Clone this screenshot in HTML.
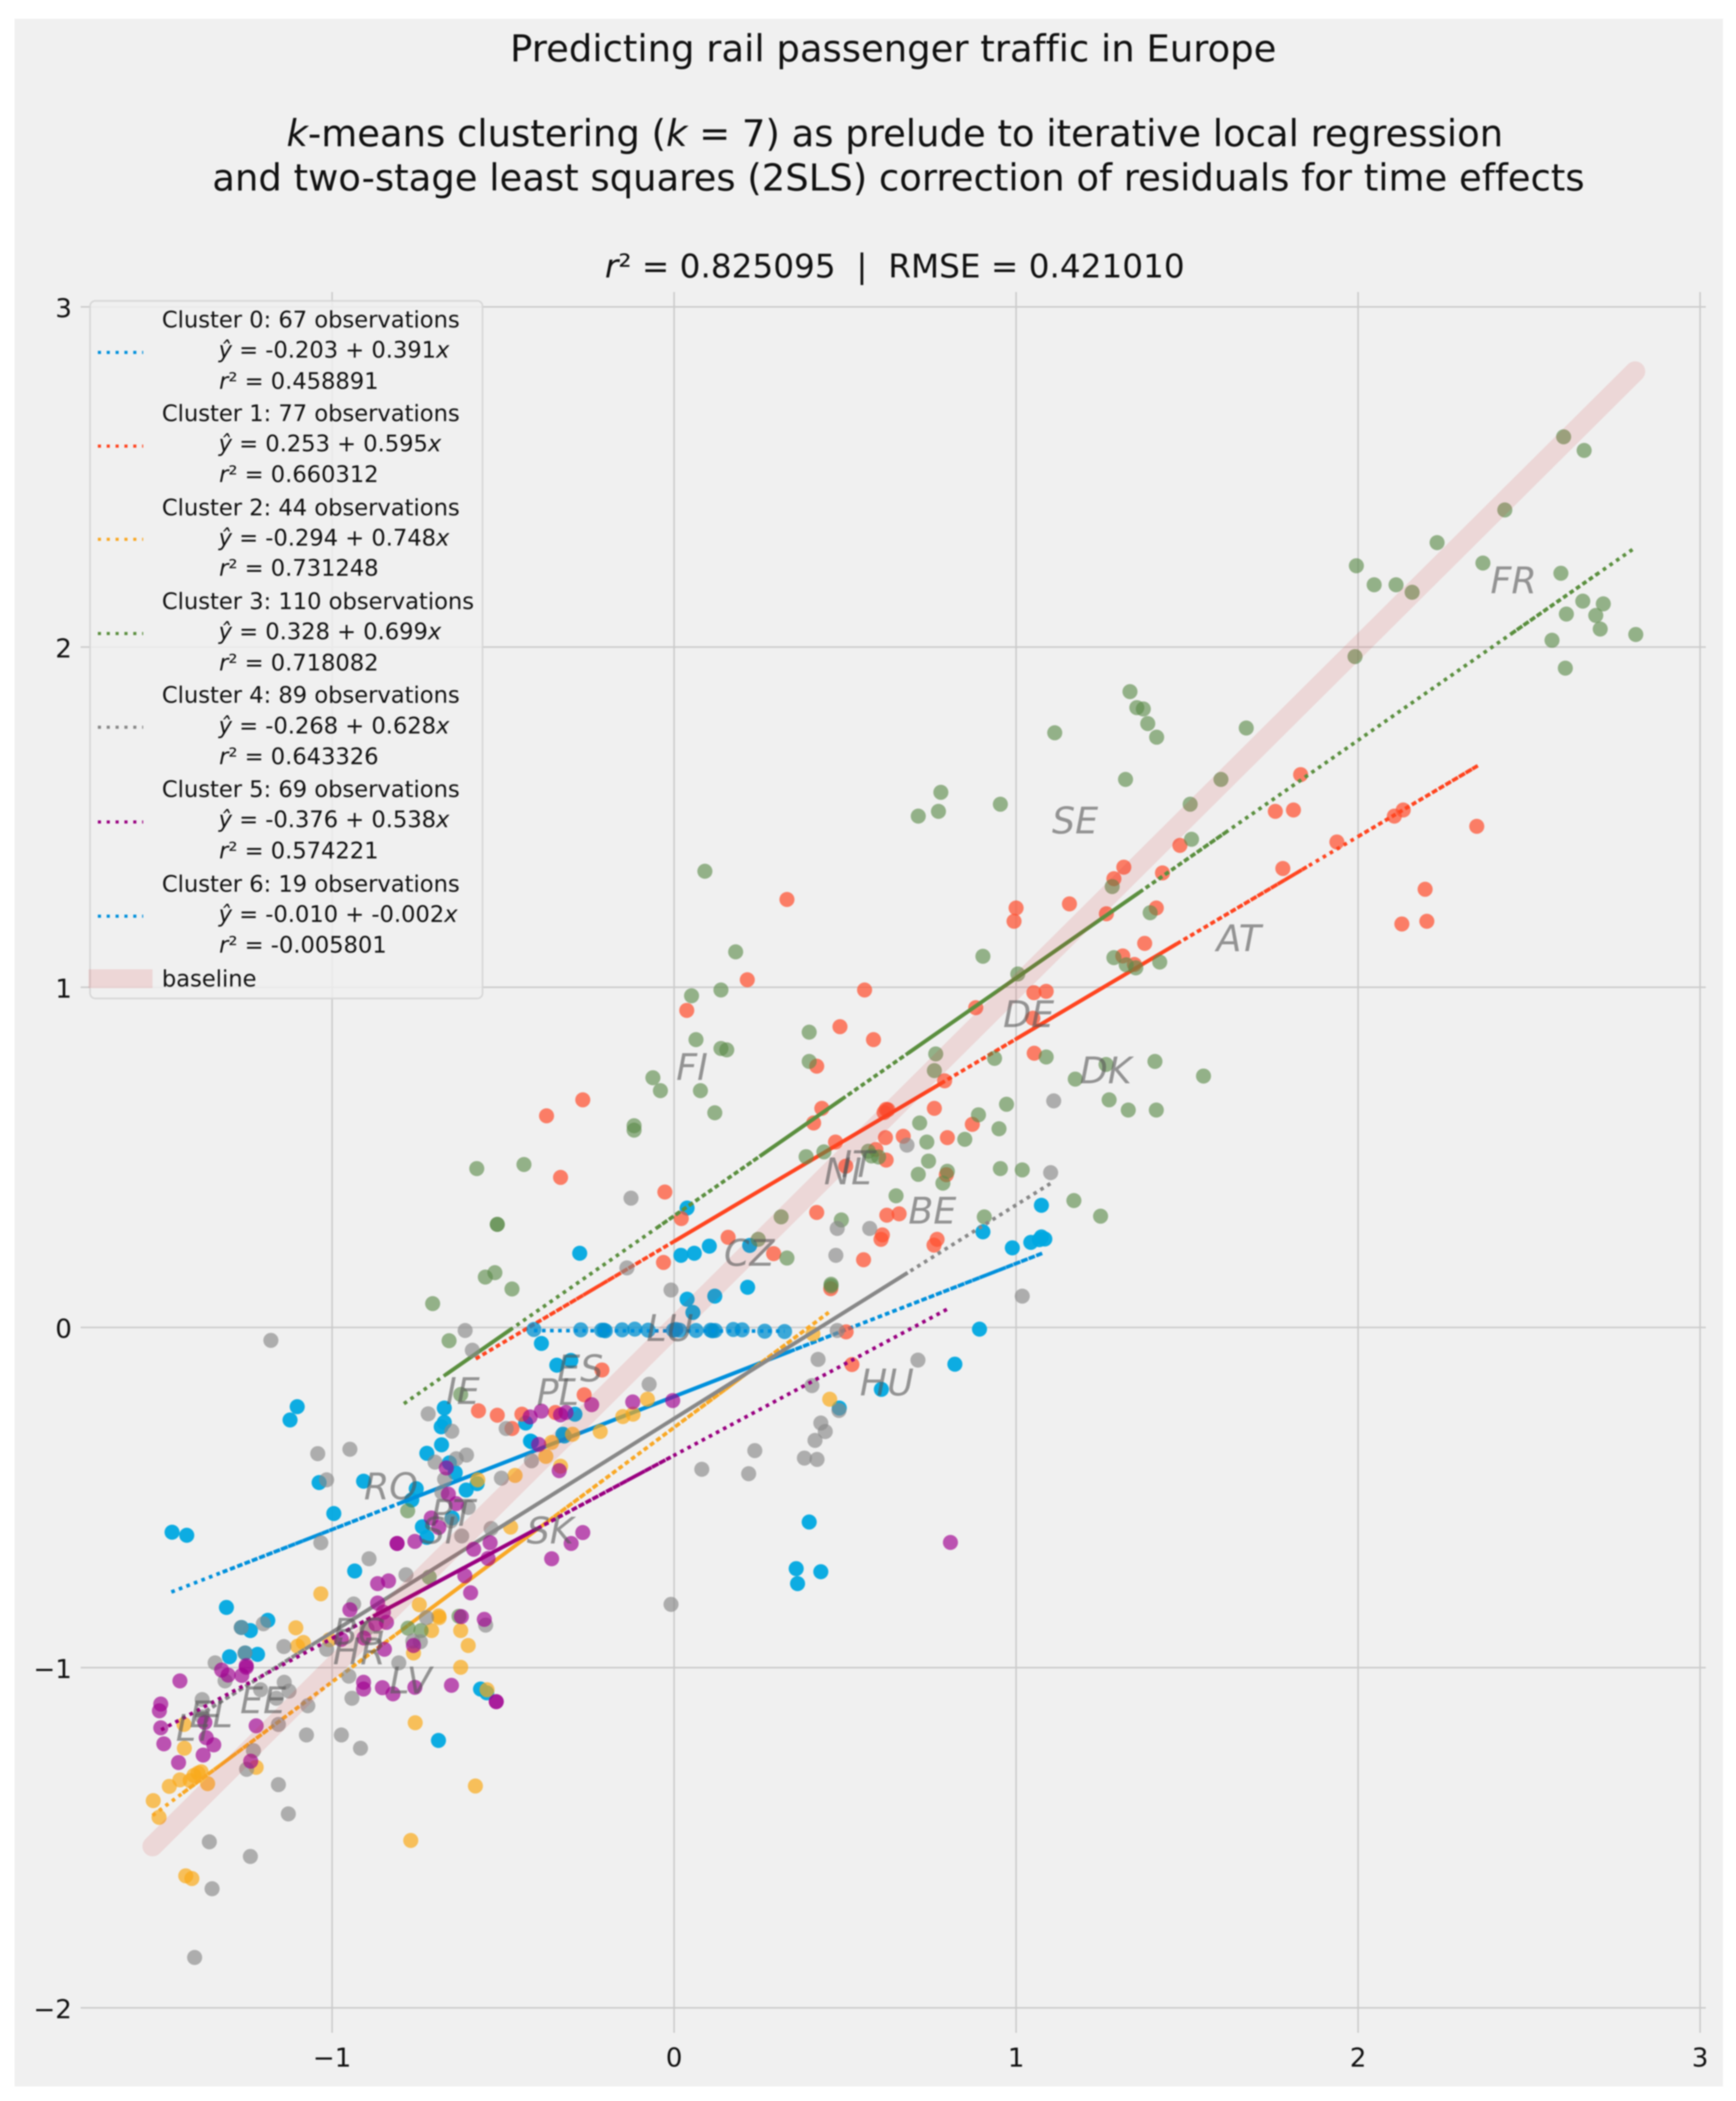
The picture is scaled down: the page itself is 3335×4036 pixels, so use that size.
<!DOCTYPE html>
<html lang="en">
<head>
<meta charset="utf-8">
<title>Predicting rail passenger traffic in Europe</title>
<style>
html,body{margin:0;padding:0;background:#fff;}
svg{display:block;font-family:"DejaVu Sans","Liberation Sans",sans-serif;font-variant-ligatures:none;filter:blur(1.3px);}
text{font-variant-ligatures:none;}
</style>
</head>
<body>
<svg id="chart" xmlns="http://www.w3.org/2000/svg" width="3335" height="4036" viewBox="0 0 3335 4036">
  <rect x="0" y="0" width="3335" height="4036" fill="#ffffff"/>
  <rect x="28" y="36" width="3282" height="3972" fill="#f0f0f0"/>
  <text x="1716" y="118" font-size="71" text-anchor="middle" fill="#111">Predicting rail passenger traffic in Europe</text>
  <text x="1719" y="281" font-size="71" text-anchor="middle" fill="#111"><tspan font-style="italic">k</tspan>-means clustering (<tspan font-style="italic">k</tspan> = 7) as prelude to iterative local regression</text>
  <text x="1726" y="366" font-size="71" text-anchor="middle" fill="#111">and two-stage least squares (2SLS) correction of residuals for time effects</text>
  <text x="1719" y="533" font-size="62.8" text-anchor="middle" fill="#111" xml:space="preserve"><tspan font-style="italic">r</tspan>² = 0.825095  |  RMSE = 0.421010</text>
  <g id="grid"></g>
  <g id="ticks"></g>
  <g id="plot"></g>
  <g id="labels"></g>

  <g id="legend" font-size="43.4" fill="#111">
    <rect x="173" y="578" width="754" height="1340" rx="10" ry="10" fill="#f0f0f0" fill-opacity="0.8" stroke="#d6d6d6" stroke-width="3"/>
    <g>
      <line x1="188" x2="275" y1="677" y2="677" stroke="#0090dc" stroke-width="6" stroke-dasharray="6 11"/>
      <text x="311" y="629">Cluster 0: 67 observations</text>
      <text x="420" y="687"><tspan font-style="italic">ŷ</tspan> = -0.203 + 0.391<tspan font-style="italic">x</tspan></text>
      <text x="421" y="747"><tspan font-style="italic">r</tspan>² = 0.458891</text>
    </g>
    <g>
      <line x1="188" x2="275" y1="857" y2="857" stroke="#ff4520" stroke-width="6" stroke-dasharray="6 11"/>
      <text x="311" y="809">Cluster 1: 77 observations</text>
      <text x="420" y="867"><tspan font-style="italic">ŷ</tspan> = 0.253 + 0.595<tspan font-style="italic">x</tspan></text>
      <text x="421" y="926"><tspan font-style="italic">r</tspan>² = 0.660312</text>
    </g>
    <g>
      <line x1="188" x2="275" y1="1036" y2="1036" stroke="#f9a825" stroke-width="6" stroke-dasharray="6 11"/>
      <text x="311" y="990">Cluster 2: 44 observations</text>
      <text x="420" y="1048"><tspan font-style="italic">ŷ</tspan> = -0.294 + 0.748<tspan font-style="italic">x</tspan></text>
      <text x="421" y="1106"><tspan font-style="italic">r</tspan>² = 0.731248</text>
    </g>
    <g>
      <line x1="188" x2="275" y1="1217" y2="1217" stroke="#5b8f3f" stroke-width="6" stroke-dasharray="6 11"/>
      <text x="311" y="1170">Cluster 3: 110 observations</text>
      <text x="420" y="1228"><tspan font-style="italic">ŷ</tspan> = 0.328 + 0.699<tspan font-style="italic">x</tspan></text>
      <text x="421" y="1288"><tspan font-style="italic">r</tspan>² = 0.718082</text>
    </g>
    <g>
      <line x1="188" x2="275" y1="1397" y2="1397" stroke="#888888" stroke-width="6" stroke-dasharray="6 11"/>
      <text x="311" y="1350">Cluster 4: 89 observations</text>
      <text x="420" y="1409"><tspan font-style="italic">ŷ</tspan> = -0.268 + 0.628<tspan font-style="italic">x</tspan></text>
      <text x="421" y="1468"><tspan font-style="italic">r</tspan>² = 0.643326</text>
    </g>
    <g>
      <line x1="188" x2="275" y1="1579" y2="1579" stroke="#990080" stroke-width="6" stroke-dasharray="6 11"/>
      <text x="311" y="1531">Cluster 5: 69 observations</text>
      <text x="420" y="1589"><tspan font-style="italic">ŷ</tspan> = -0.376 + 0.538<tspan font-style="italic">x</tspan></text>
      <text x="421" y="1649"><tspan font-style="italic">r</tspan>² = 0.574221</text>
    </g>
    <g>
      <line x1="188" x2="275" y1="1760" y2="1760" stroke="#0090dc" stroke-width="6" stroke-dasharray="6 11"/>
      <text x="311" y="1713">Cluster 6: 19 observations</text>
      <text x="420" y="1771"><tspan font-style="italic">ŷ</tspan> = -0.010 + -0.002<tspan font-style="italic">x</tspan></text>
      <text x="421" y="1830"><tspan font-style="italic">r</tspan>² = -0.005801</text>
    </g>
    <g>
      <rect x="170" y="1862" width="123" height="36" fill="#d62828" fill-opacity="0.13"/>
      <text x="311" y="1895">baseline</text>
    </g>
  </g>
</svg>

<script>
const xTickValues = [-1, 0, 1, 2, 3];
const yTickValues = [-2, -1, 0, 1, 2, 3];
const baselineRange = [-1.525, 2.81];

const intercepts = [-0.203, 0.253, -0.294, 0.328, -0.268, -0.376, -0.010];
const slopes = [0.391, 0.595, 0.748, 0.699, 0.628, 0.538, -0.002];
const fitRanges = [[-1.47, 1.08], [-0.58, 2.35], [-1.525, 0.452], [-0.79, 2.81], [-1.37, 1.107], [-1.5, 0.804], [-0.41, 0.323]];
const solidRanges = [
  [[-0.8, 0.34]],
  [[0, 0.78], [1.0, 1.47]],
  [[-0.72, -0.4]],
  [[-0.667, -0.475], [0.25, 0.49], [0.685, 1.36]],
  [[-1.0, 0.683]],
  [[-0.88, -0.4]],
  []
];
const denseRanges = [
  [[-1.32, -0.8], [0.34, 1.08]],
  [[-0.58, 0], [0.78, 1.0], [1.47, 1.85], [2.0, 2.35]],
  [[-1.437, -0.72], [-0.4, 0.452]],
  [[-0.05, 0.25], [0.49, 0.685], [1.36, 1.62], [2.45, 2.7]],
  [[-1.37, -1.0]],
  [[-1.0, -0.88], [-0.4, -0.01]],
  []
];

const cluster0Points = [[-1.468,-.602],[-1.425,-.611],[-1.102,-.233],[-1.123,-.272],[-1.038,-.456],[-.908,-.452],[-.995,-.547],[-.934,-.716],[-1.309,-.823],[-1.265,-.882],[-1.239,-.891],[-1.188,-.861],[-1.3,-.968],[-1.254,-.957],[-1.218,-.961],[-.566,-1.063],[-.548,-1.074],[-.689,-1.214],[-.672,-.237],[-.672,-.279],[-.681,-.292],[-.68,-.345],[-.723,-.37],[-.657,-.398],[-.64,-.427],[-.754,-.474],[-.608,-.478],[-.767,-.507],[-.576,-.459],[-.649,-.56],[-.736,-.586],[-.723,-.617],[-.434,-.281],[-.417,-.336],[-.321,-.319],[-.276,.218],[.02,.212],[.059,.218],[.103,.239],[.221,.241],[.215,.118],[.119,.092],[.038,.083],[.055,.044],[.038,.351],[-.388,-.047],[-.343,-.111],[-.302,-.097],[-.29,-.255],[-.42,-.334],[-.325,-.314],[.483,-.237],[.395,-.572],[.357,-.709],[.429,-.718],[.361,-.753],[.821,-.108],[.606,-.182],[.893,-.005],[.903,.281],[1.074,.359],[.989,.234],[1.043,.25],[1.074,.266],[1.084,.26],[1.068,.258]];

const cluster1Points = [[2.347,1.473],[2.196,1.288],[2.201,1.194],[2.128,1.186],[2.106,1.503],[2.132,1.521],[1.832,1.625],[1.758,1.517],[1.811,1.521],[1.938,1.427],[1.78,1.349],[1.479,1.417],[1.315,1.353],[1.286,1.319],[1.428,1.336],[1.264,1.216],[1.156,1.245],[1.0,1.233],[.994,1.194],[1.41,1.233],[1.376,1.129],[1.312,1.092],[1.346,1.067],[1.052,.984],[1.088,.988],[.882,.94],[1.049,.909],[1.053,.806],[.791,.725],[.33,1.258],[.214,1.022],[.037,.932],[.557,.992],[.485,.884],[.583,.846],[.417,.768],[.432,.644],[.408,.601],[.761,.644],[.62,.641],[.625,.64],[.614,.632],[.472,.545],[.618,.558],[.67,.562],[.799,.558],[.872,.597],[.59,.523],[.62,.492],[.502,.474],[-.027,.398],[.021,.32],[.417,.338],[.622,.33],[.658,.334],[.158,.265],[.609,.272],[.605,.259],[.769,.259],[.76,.242],[.796,.449],[.291,.217],[.554,.199],[.458,.114],[.503,-.013],[.52,-.109],[-.332,.441],[-.031,.191],[-.211,-.125],[-.263,-.198],[-.572,-.245],[-.517,-.258],[-.474,-.297],[-.445,-.255],[-.347,-.25],[-.373,.622],[-.267,.669]];

const cluster2Points = [[-1.106,-.883],[-1.084,-.926],[-1.101,-.937],[-1.523,-1.391],[-1.506,-1.44],[-1.476,-1.349],[-1.445,-1.33],[-1.415,-1.332],[-1.432,-1.237],[-1.433,-1.167],[-1.404,-1.317],[-1.392,-1.31],[-1.383,-1.306],[-1.364,-1.341],[-1.222,-1.293],[-1.428,-1.612],[-1.41,-1.62],[-.77,-1.508],[-.581,-1.348],[-.757,-1.162],[-.547,-1.065],[-.687,-.853],[-.709,-.891],[-.624,-.891],[-.602,-.935],[-.624,-.999],[-.762,-.957],[-1.008,-.918],[-1.033,-.783],[-.745,-.815],[-.688,-.848],[-.478,-.587],[-.375,-.379],[-.358,-.338],[-.465,-.435],[-.574,-.448],[-.332,-.408],[-.297,-.314],[-.216,-.306],[-.15,-.262],[-.12,-.255],[-.078,-.211],[.455,-.211],[.406,-.019]];

const cluster3Points = [[2.601,2.618],[2.661,2.578],[2.429,2.403],[2.231,2.307],[1.995,2.239],[2.047,2.183],[2.111,2.183],[2.158,2.161],[2.365,2.247],[2.593,2.217],[2.657,2.135],[2.717,2.127],[2.609,2.097],[2.695,2.093],[2.708,2.053],[2.812,2.037],[2.567,2.02],[2.606,1.938],[1.991,1.972],[1.333,1.869],[1.353,1.822],[1.372,1.818],[1.385,1.775],[1.411,1.735],[1.113,1.748],[1.673,1.762],[1.32,1.611],[1.599,1.611],[1.509,1.538],[1.513,1.435],[.954,1.538],[.78,1.573],[.773,1.517],[1.281,1.296],[.903,1.091],[1.005,1.039],[1.392,1.219],[1.286,1.087],[1.322,1.066],[1.35,1.057],[1.42,1.074],[.937,.791],[1.088,.795],[1.263,.773],[1.406,.782],[1.548,.739],[1.173,.73],[1.272,.669],[1.328,.639],[1.41,.639],[.972,.656],[.89,.625],[.714,1.503],[.09,1.341],[.18,1.104],[.137,.992],[.051,.975],[.064,.846],[.137,.82],[.154,.816],[-.062,.734],[-.04,.696],[.077,.696],[.119,.631],[-.117,.593],[-.117,.58],[.395,.868],[.395,.782],[.765,.804],[.761,.755],[.95,.584],[.85,.553],[.718,.601],[.739,.545],[.744,.489],[.714,.45],[.799,.459],[.786,.424],[.954,.467],[1.018,.463],[.386,.502],[.438,.516],[.568,.518],[.577,.504],[.598,.501],[.649,.387],[.489,.316],[.907,.325],[1.169,.373],[1.247,.327],[.313,.325],[.246,.259],[.33,.204],[.459,.127],[.459,.122],[-.577,.467],[-.439,.479],[-.517,.303],[-.517,.303],[-.552,.148],[-.524,.161],[-.474,.113],[-.706,.07],[-.658,-.039],[-.624,-.197],[-.716,-.734],[-.779,-.539],[-.778,-.884],[-.74,-.891],[-.629,-.849]];

const cluster4Points = [[-1.402,-1.852],[-1.351,-1.65],[-1.239,-1.555],[-1.359,-1.512],[-1.128,-1.43],[-1.157,-1.344],[-1.23,-1.244],[-1.25,-1.299],[-.917,-1.237],[-.973,-1.198],[-1.075,-1.198],[-1.157,-1.167],[-1.071,-1.112],[-.942,-1.09],[-.951,-1.025],[-1.126,-1.069],[-1.14,-1.043],[-1.209,-1.065],[-1.163,-1.09],[-1.313,-1.039],[-1.342,-.986],[-1.38,-1.094],[-1.38,-1.145],[-1.201,-.871],[-1.266,-.882],[-1.255,-.957],[-1.141,-.938],[-1.016,-.946],[-.805,-.986],[-.764,-.922],[-.742,-.924],[-.724,-.853],[-.551,-.875],[-.898,-.885],[-1.179,-.038],[-.611,-.009],[-.59,-.067],[-.719,-.254],[-.65,-.305],[-.948,-.358],[-1.042,-.371],[-1.016,-.448],[-1.033,-.633],[-.892,-.68],[-.784,-.727],[-.699,-.396],[-.637,-.386],[-.607,-.375],[-.671,-.446],[-.679,-.485],[-.602,-.529],[-.621,-.613],[-.535,-.591],[-.505,-.443],[-.491,-.297],[-.417,-.392],[-.653,-.569],[-.937,-.813],[-.126,.38],[-.138,.175],[-.009,.11],[-.073,-.167],[.477,-.009],[.421,-.094],[.403,-.171],[.429,-.281],[.442,-.306],[.412,-.332],[.381,-.384],[.418,-.388],[.236,-.362],[.081,-.417],[.218,-.43],[-.009,-.814],[.482,-.244],[.477,.291],[.572,.291],[.473,.212],[.681,.536],[1.11,.666],[1.101,.455],[1.018,.092],[.713,-.096]];

const cluster5Points = [[-1.445,-1.039],[-1.501,-1.107],[-1.505,-1.127],[-1.501,-1.177],[-1.492,-1.224],[-1.449,-1.279],[-1.377,-1.257],[-1.368,-1.206],[-1.346,-1.227],[-1.372,-1.161],[-1.222,-1.171],[-1.238,-1.275],[-1.323,-1.007],[-1.304,-1.022],[-1.264,-1.023],[-1.251,-.999],[-1.251,-.994],[-.908,-1.043],[-.908,-1.063],[-.853,-1.059],[-.822,-1.077],[-.758,-1.058],[-.651,-1.052],[-.52,-1.1],[-.52,-1.1],[-.847,-.946],[-.762,-.935],[-.622,-.85],[-.555,-.858],[-.973,-.917],[-.907,-.913],[-.867,-.753],[-.835,-.745],[-.867,-.81],[-.948,-.83],[-.85,-.837],[-.841,-.867],[-.872,-.872],[-.595,-.78],[-.612,-.73],[-.544,-.679],[-.586,-.652],[-.538,-.633],[-.758,-.629],[-.81,-.635],[-.81,-.635],[-.71,-.56],[-.688,-.588],[-.66,-.49],[-.637,-.518],[-.666,-.413],[-.421,-.263],[-.388,-.246],[-.396,-.344],[-.336,-.421],[-.332,-.257],[-.316,-.25],[-.358,-.68],[-.301,-.635],[-.267,-.603],[-.241,-.227],[-.121,-.219],[-.004,-.215],[.808,-.632]];

const cluster6Points = [[-.41,-.006],[-.273,-.007],[-.212,-.008],[-.205,-.008],[-.201,-.01],[-.152,-.007],[-.115,-.005],[-.076,-.008],[-.002,-.008],[.005,-.006],[.016,-.008],[.064,-.009],[.107,-.008],[.12,-.009],[.173,-.006],[.199,-.007],[.265,-.011],[.323,-.012],[.112,-.01]];

const clusterPoints = [cluster0Points, cluster1Points, cluster2Points, cluster3Points, cluster4Points, cluster5Points, cluster6Points];

const pointColors = ['#00a8e0', '#ff5030', '#f9a91a', '#5a8a48', '#888888', '#a00090', '#0090d0'];
const pointOpacity = [0.95, 0.72, 0.7, 0.62, 0.65, 0.66, 0.75];
const lineColors = ['#0090dc', '#ff4520', '#f9a825', '#5b8f3f', '#888888', '#990080', '#0090dc'];

const countryCodes = ['FR','SE','AT','DE','DK','FI','NL','IT','BE','CZ','LU','HU','ES','IE','PL','RO','PT','SI','SK','BG','HR','LV','EE','EL','LT'];
const countryX = [2.387,1.105,1.586,.962,1.186,.006,.438,.489,.685,.146,-.081,.543,-.342,-.667,-.402,-.907,-.712,-.738,-.431,-.998,-.998,-.833,-1.269,-1.417,-1.457];
const countryY = [2.158,1.452,1.106,.883,.718,.728,.421,.442,.305,.181,-.04,-.2,-.158,-.225,-.228,-.505,-.583,-.635,-.635,-.933,-.99,-1.076,-1.134,-1.175,-1.215];

const NS = 'http://www.w3.org/2000/svg';
const xScale = v => 1295 + 657 * v;
const yScale = v => 2550 - 653.5 * v;
const axisLeft = 155, axisRight = 3277, axisTop = 561, axisBottom = 3905;

const gridGroup = document.getElementById('grid');
const tickGroup = document.getElementById('ticks');
const plotGroup = document.getElementById('plot');
const labelGroup = document.getElementById('labels');

function make(tag, attrs, parent) {
  const el = document.createElementNS(NS, tag);
  for (const k in attrs) el.setAttribute(k, attrs[k]);
  parent.appendChild(el);
  return el;
}
function tickText(v) { return v < 0 ? '\u2212' + Math.abs(v) : String(v); }

xTickValues.forEach(v => {
  const line = make('line', {x1: xScale(v), x2: xScale(v), y1: axisTop, y2: axisBottom, stroke: '#cbcbcb', 'stroke-width': 3}, gridGroup);
  
  
  const label = make('text', {x: xScale(v), y: 3970, 'font-size': 50, 'text-anchor': 'middle', fill: '#111'}, tickGroup);
  
  
  label.textContent = tickText(v);
});
yTickValues.forEach(v => {
  const line = make('line', {x1: axisLeft, x2: axisRight, y1: yScale(v), y2: yScale(v), stroke: '#cbcbcb', 'stroke-width': 3}, gridGroup);
  
  
  const label = make('text', {x: 138, y: yScale(v) + 20, 'font-size': 50, 'text-anchor': 'end', fill: '#111'}, tickGroup);
  
  
  label.textContent = tickText(v);
});

function fitSegment(i, a, b, dash, width, parent) {
  const attrs = {
    x1: xScale(a), x2: xScale(b),
    y1: yScale(intercepts[i] + slopes[i] * a), y2: yScale(intercepts[i] + slopes[i] * b),
    stroke: lineColors[i], 'stroke-width': width
  };
  if (dash) attrs['stroke-dasharray'] = dash;
  const seg = make('line', attrs, parent);
  
  
}

clusterPoints.forEach((pts, i) => {
  const g = make('g', {}, plotGroup);
  
  
  pts.forEach(p => {
    const c = make('circle', {cx: xScale(p[0]), cy: yScale(p[1]), r: 14.5, fill: pointColors[i], 'fill-opacity': pointOpacity[i]}, g);
    
    
  });
  fitSegment(i, fitRanges[i][0], fitRanges[i][1], '7 8.5', 7, g);
  denseRanges[i].forEach(r => fitSegment(i, r[0], r[1], '9 6', 7, g));
  solidRanges[i].forEach(r => fitSegment(i, r[0], r[1], null, 7.5, g));
});

const baseline = make('line', {
  x1: xScale(baselineRange[0]), y1: yScale(baselineRange[0]),
  x2: xScale(baselineRange[1]), y2: yScale(baselineRange[1]),
  stroke: '#d62828', 'stroke-opacity': 0.12, 'stroke-width': 39, 'stroke-linecap': 'round'
}, plotGroup);



countryCodes.forEach((code, i) => {
  const t = make('text', {x: xScale(countryX[i]), y: yScale(countryY[i]), 'font-size': 70, 'font-style': 'italic', fill: '#555555', 'fill-opacity': 0.6}, labelGroup);
  
  
  t.textContent = code;
});
</script>
</body>
</html>
